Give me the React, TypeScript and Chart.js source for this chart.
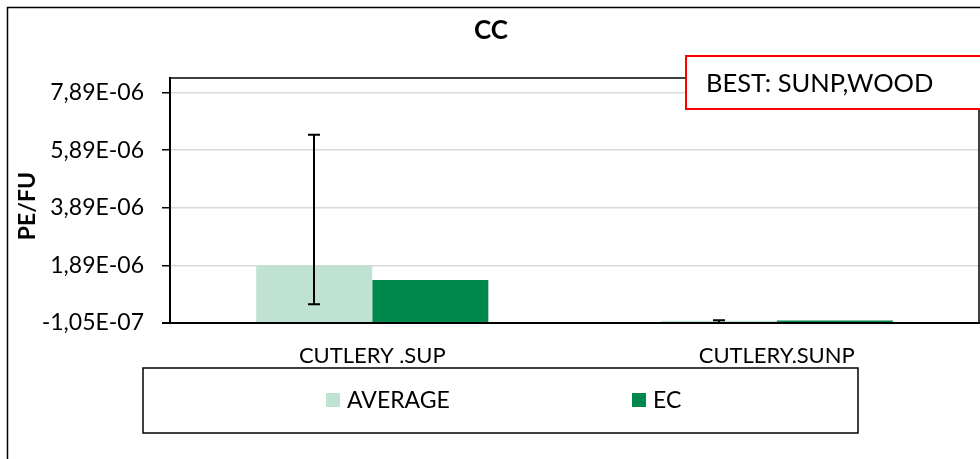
import React, { useEffect, useRef } from "react";
import { Chart, registerables } from "chart.js";
Chart.register(...registerables);

const categories = ["CUTLERY ,SUP", "CUTLERY,SUNP"];
const seriesNames = ["AVERAGE", "EC"];
const averageValues = [1.89e-6, -3.0e-8];
const ecValues = [1.39e-6, -1.5e-8];
const averageErrLow = [5.44e-7, -1.05e-7];
const averageErrHigh = [6.43e-6, -1.0e-8];
const yTickValues = [-1.05e-7, 1.895e-6, 3.895e-6, 5.895e-6, 7.895e-6];
const yTickLabels = ["-1,05E-07", "1,89E-06", "3,89E-06", "5,89E-06", "7,89E-06"];
const yMin = -1.05e-7;
const yMax = 8.4e-6;
const chartTitle = "CC";
const yAxisTitle = "PE/FU";
const annotationText = "BEST: SUNP,WOOD";

const seriesColors = ["#C0E2D2", "#00874C"];
const FONT = "Lato, 'Noto Sans', sans-serif";

const decor = {
  id: "decor",
  beforeDraw(chart: any) {
    const ctx = chart.ctx;
    ctx.save();
    ctx.fillStyle = "#fff";
    ctx.fillRect(0, 0, chart.width, chart.height);
    ctx.restore();
  },
  afterDatasetsDraw(chart: any) {
    const ctx = chart.ctx;
    const ys = chart.scales.y;
    const area = chart.chartArea;
    const meta = chart.getDatasetMeta(0);
    ctx.save();
    ctx.strokeStyle = "#000";
    ctx.lineWidth = 2;
    meta.data.forEach((bar: any, i: number) => {
      const x = Math.round(bar.x);
      const yHi = ys.getPixelForValue(averageErrHigh[i]);
      const yLo = ys.getPixelForValue(averageErrLow[i]);
      ctx.beginPath();
      ctx.moveTo(x, yHi);
      ctx.lineTo(x, yLo);
      ctx.moveTo(x - 6, yHi);
      ctx.lineTo(x + 6, yHi);
      ctx.moveTo(x - 6, yLo);
      ctx.lineTo(x + 6, yLo);
      ctx.stroke();
    });
    // axis line over bars
    ctx.beginPath();
    ctx.moveTo(area.left - 8, area.bottom);
    ctx.lineTo(area.right, area.bottom);
    ctx.stroke();
    // plot frame top/right
    ctx.lineWidth = 1.5;
    ctx.beginPath();
    ctx.moveTo(area.left, area.top);
    ctx.lineTo(area.right, area.top);
    ctx.lineTo(area.right, area.bottom);
    ctx.stroke();
    ctx.restore();
  },
  afterDraw(chart: any) {
    const ctx = chart.ctx;
    ctx.save();
    // outer border
    ctx.strokeStyle = "#000";
    ctx.lineWidth = 1.5;
    ctx.strokeRect(7.5, 7.5, 1100, 600);

    // title
    ctx.fillStyle = "#000";
    ctx.font = `bold 26px ${FONT}`;
    ctx.textAlign = "center";
    ctx.textBaseline = "middle";
    ctx.fillText(chartTitle, 491, 31);

    // y title
    ctx.save();
    ctx.translate(28, 206);
    ctx.rotate(-Math.PI / 2);
    ctx.font = `bold 23px ${FONT}`;
    ctx.fillText(yAxisTitle, 0, 0);
    ctx.restore();

    // annotation box
    ctx.fillStyle = "#fff";
    ctx.fillRect(686, 56, 400, 53);
    ctx.strokeStyle = "#FF0000";
    ctx.lineWidth = 2;
    ctx.strokeRect(686, 56, 400, 53);
    ctx.fillStyle = "#000";
    ctx.font = `25.5px ${FONT}`;
    ctx.textAlign = "left";
    ctx.fillText(annotationText, 706, 84);

    // legend
    ctx.strokeStyle = "#000";
    ctx.lineWidth = 1.5;
    ctx.strokeRect(143, 368, 715, 65);
    const legendX = [326, 632];
    ctx.font = `23px ${FONT}`;
    chart.data.datasets.forEach((ds: any, i: number) => {
      ctx.fillStyle = ds.backgroundColor;
      ctx.fillRect(legendX[i], 393, 14, 14);
      ctx.fillStyle = "#000";
      ctx.fillText(ds.label, legendX[i] + 21, 401);
    });
    ctx.restore();
  },
};

export default function App() {
  const ref = useRef<HTMLCanvasElement | null>(null);
  useEffect(() => {
    document.body.style.margin = "0";
    const chart = new Chart(ref.current as HTMLCanvasElement, {
      type: "bar",
      data: {
        labels: categories,
        datasets: [
          {
            label: seriesNames[0],
            data: averageValues,
            backgroundColor: seriesColors[0],
            base: yMin,
            borderWidth: 0,
          } as any,
          {
            label: seriesNames[1],
            data: ecValues,
            backgroundColor: seriesColors[1],
            base: yMin,
            borderWidth: 0,
          } as any,
        ],
      },
      options: {
        responsive: false,
        animation: false,
        devicePixelRatio: 1,
        layout: { padding: { left: 0, right: 1, top: 78, bottom: 96 } },
        datasets: { bar: { categoryPercentage: 0.574, barPercentage: 1 } },
        plugins: { legend: { display: false }, title: { display: false }, tooltip: { enabled: false } },
        scales: {
          x: {
            grid: { display: false, drawTicks: false },
            border: { display: true, color: "#000", width: 2 },
            ticks: { color: "#000", padding: 20, font: { family: FONT, size: 22 }, maxRotation: 0 },
            afterFit: (s: any) => {
              s.height = 40;
            },
          },
          y: {
            min: yMin,
            max: yMax,
            grid: { color: "#D9D9D9", lineWidth: 1.5, tickLength: 8, tickColor: "#000", tickWidth: 1.5 },
            border: { display: true, color: "#000", width: 2 },
            afterBuildTicks: (s: any) => {
              s.ticks = yTickValues.map((v) => ({ value: v }));
            },
            ticks: {
              color: "#000",
              padding: 18,
              font: { family: FONT, size: 23 },
              callback: (_v: any, i: number) => yTickLabels[i],
            },
            afterFit: (s: any) => {
              s.width = 170;
            },
          },
        },
      } as any,
      plugins: [decor],
    });
    return () => chart.destroy();
  }, []);
  return (
    <div style={{ width: 980, height: 459 }}>
      <canvas ref={ref} width={980} height={459} style={{ display: "block" }} />
    </div>
  );
}
